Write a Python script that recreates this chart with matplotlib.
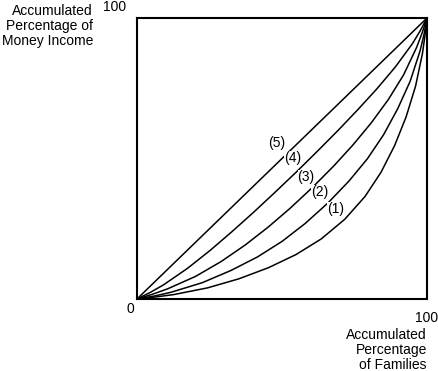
import matplotlib

matplotlib.use("Agg")
import matplotlib.pyplot as plt

# Lorenz curves (percent of families, percent of income)
CURVE_1_X = [0, 6.36, 12.59, 24.32, 35.21, 45.40, 54.87, 63.50, 71.63, 78.64, 84.16, 88.83, 92.79, 96.04, 98.44, 99.29, 100]
CURVE_1_Y = [0, 0.71, 1.56, 3.96, 7.21, 11.17, 15.84, 21.36, 28.36, 36.50, 45.13, 54.60, 64.79, 75.68, 87.41, 93.64, 100]

CURVE_2_X = [0, 6.01, 11.74, 22.49, 32.31, 41.58, 50.13, 57.98, 65.83, 73.13, 79.42, 85.01, 89.89, 94.20, 97.60, 98.94, 100]
CURVE_2_Y = [0, 1.06, 2.40, 5.80, 10.11, 14.99, 20.58, 26.87, 34.16, 42.02, 49.87, 58.42, 67.69, 77.51, 88.26, 93.99, 100]

CURVE_3_X = [0, 5.37, 10.54, 20.22, 29.06, 37.33, 45.18, 52.68, 60.39, 67.83, 74.46, 80.77, 86.64, 91.94, 96.39, 98.30, 100]
CURVE_3_Y = [0, 1.70, 3.61, 8.06, 13.36, 19.23, 25.54, 32.17, 39.60, 47.32, 54.82, 62.67, 70.94, 79.78, 89.46, 94.63, 100]

CURVE_4_X = [0, 4.67, 9.12, 17.39, 25.17, 32.67, 40.02, 47.23, 54.87, 62.38, 69.31, 76.10, 82.75, 89.11, 94.98, 97.60, 100]
CURVE_4_Y = [0, 2.40, 5.02, 10.89, 17.25, 23.90, 30.69, 37.62, 45.12, 52.77, 59.98, 67.33, 74.83, 82.61, 90.88, 95.33, 100]

CURVE_5_X = [0, 100]
CURVE_5_Y = [0, 100]

CURVE_LABELS = ["(1)", "(2)", "(3)", "(4)", "(5)"]
LABEL_X = [68.6, 62.9, 58.3, 53.6, 48.2]
LABEL_Y = [31.9, 38.2, 43.5, 50.1, 55.6]

AXIS_MAX = 100
X_TITLE = "Accumulated\nPercentage\nof Families"
Y_TITLE = "Accumulated\nPercentage of\nMoney Income"

FONT = ["Liberation Sans", "DejaVu Sans"]
FONT_SIZE = 10


def draw(ax) -> None:
	curves = [
		(CURVE_1_X, CURVE_1_Y),
		(CURVE_2_X, CURVE_2_Y),
		(CURVE_3_X, CURVE_3_Y),
		(CURVE_4_X, CURVE_4_Y),
		(CURVE_5_X, CURVE_5_Y),
	]
	for xs, ys in curves:
		ax.plot(xs, ys, color="black", linewidth=1.1, solid_capstyle="round")

	for label, x, y in zip(CURVE_LABELS, LABEL_X, LABEL_Y):
		ax.text(x, y, label, ha="center", va="center", fontsize=FONT_SIZE,
			bbox=dict(facecolor="white", edgecolor="none", pad=0.0))

	ax.set_xlim(0, AXIS_MAX)
	ax.set_ylim(0, AXIS_MAX)
	ax.set_xticks([])
	ax.set_yticks([])
	for spine in ax.spines.values():
		spine.set_linewidth(1.5)

	# corner values and axis titles sit outside the box
	ax.text(-0.024, -0.036, "0", transform=ax.transAxes, ha="center", va="center", fontsize=FONT_SIZE)
	ax.text(1.0, -0.066, str(AXIS_MAX), transform=ax.transAxes, ha="center", va="center", fontsize=FONT_SIZE)
	ax.text(-0.079, 1.040, str(AXIS_MAX), transform=ax.transAxes, ha="center", va="center", fontsize=FONT_SIZE)
	ax.text(-0.152, 1.050, Y_TITLE, transform=ax.transAxes, ha="right", va="top",
		multialignment="right", fontsize=FONT_SIZE, linespacing=1.1)
	ax.text(1.0, -0.104, X_TITLE, transform=ax.transAxes, ha="right", va="top",
		multialignment="right", fontsize=FONT_SIZE, linespacing=1.1)


def main() -> None:
	plt.rcParams["font.family"] = FONT
	fig = plt.figure(figsize=(4.39, 3.71), dpi=100)
	ax = fig.add_axes([137 / 439, 1 - 299 / 371, 290 / 439, 281 / 371])
	draw(ax)
	fig.savefig("out.png", dpi=100)
	plt.close(fig)


if __name__ == "__main__":
	main()
